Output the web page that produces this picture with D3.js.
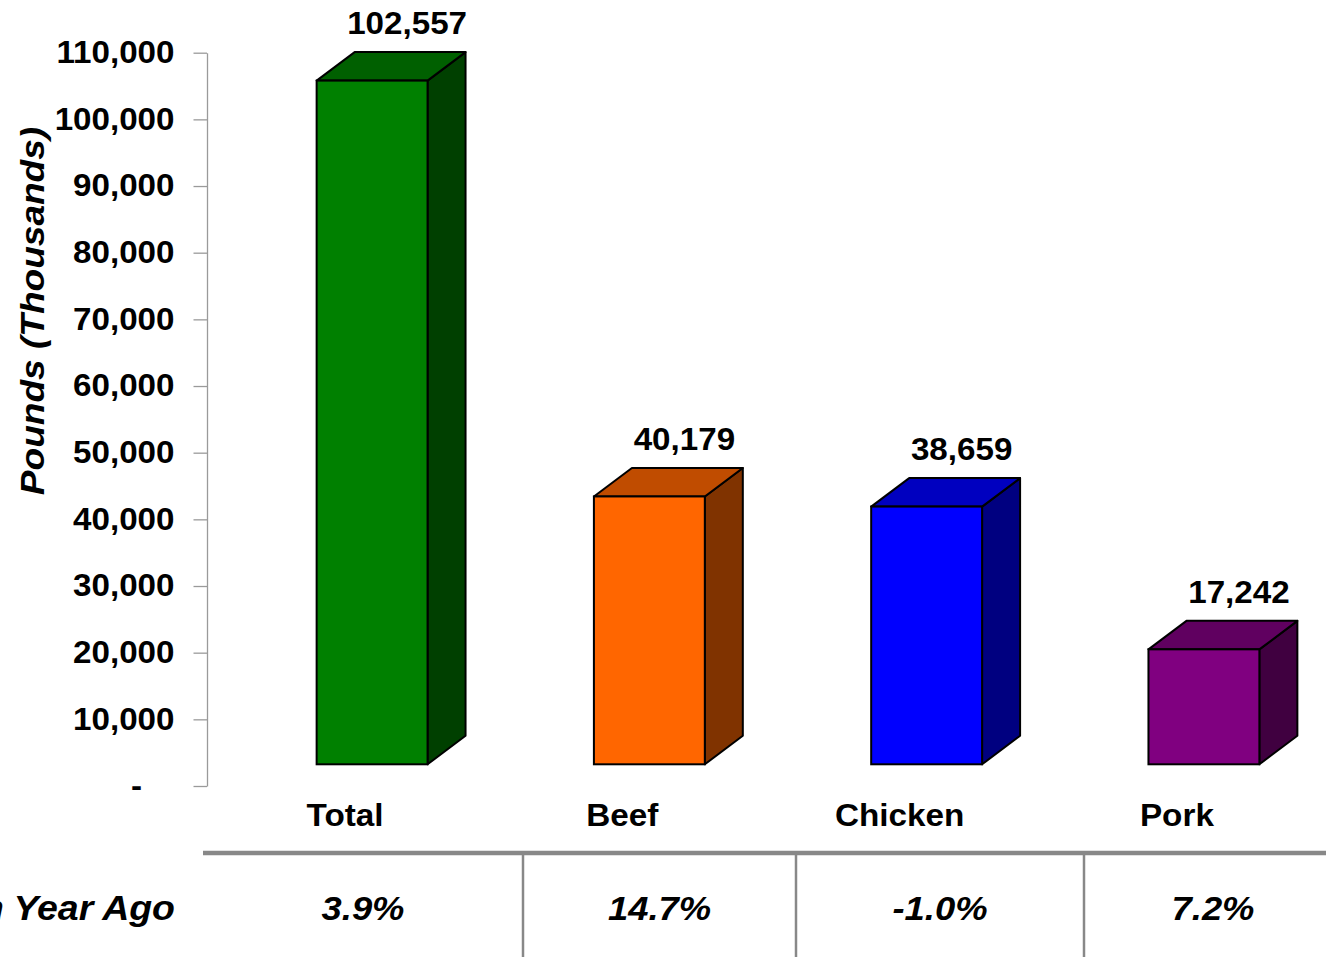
<!DOCTYPE html>
<html>
<head>
<meta charset="utf-8">
<script src="https://cdn.jsdelivr.net/npm/d3@7"></script>
<style>
  html, body { margin: 0; padding: 0; background: #fff; overflow: hidden; }
  svg { display: block; font-family: "Liberation Sans", Arial, sans-serif; }
</style>
</head>
<body>
<svg id="chart" width="1326" height="957"></svg>
<script>
// ---- data ----
const categories = ["Total", "Beef", "Chicken", "Pork"];
const values = [102557, 40179, 38659, 17242];
const changes = ["3.9%", "14.7%", "-1.0%", "7.2%"];
const rowLabel = "% Change from Year Ago";
const yTicks = [0, 10000, 20000, 30000, 40000, 50000, 60000, 70000, 80000, 90000, 100000, 110000];
const yTitle = "Pounds (Thousands)";
const frontColors = ["#008000", "#FF6600", "#0000FF", "#800080"];
const topColors = ["#006000", "#C04C00", "#0000C0", "#600060"];
const sideColors = ["#004000", "#803300", "#000080", "#400040"];
// table column boundaries (layout)
const tableCols = [203, 523, 796, 1084, 1342];

// ---- layout ----
const svg = d3.select("#chart");
const axisX = 207;
const y = d3.scaleLinear().domain([0, 110000]).range([786, 52.7]);
const x = d3.scaleBand().domain(categories).range([178, 1398]).paddingInner(0.6).paddingOuter(0.5);
const floorShift = 21.7;   // front face base sits above the axis zero
const dx = 38, dy = -28.5; // 3D depth
const stretch = 1.07;

// ---- y axis ----
const fmt = d3.format(",");
const axis = d3.axisLeft(y).tickValues(yTicks).tickSize(13.5).tickSizeOuter(0).tickPadding(19)
  .tickFormat(d => d === 0 ? "-" : fmt(d));
const gAxis = svg.append("g").attr("transform", `translate(${axisX},0)`).call(axis);
gAxis.select(".domain").attr("stroke", "#9a9a9a").attr("stroke-width", 1.3);
gAxis.selectAll(".tick line").attr("stroke", "#9a9a9a").attr("stroke-width", 1.3);
gAxis.selectAll(".tick text")
  .attr("fill", "#000").attr("font-size", 31).attr("font-weight", "bold")
  .attr("font-family", "'Liberation Sans', Arial, sans-serif")
  .attr("x", 0)
  .attr("transform", d => `translate(${d === 0 ? -65 : -32.5},0) scale(${stretch},1)`);

// y title
svg.append("text")
  .attr("transform", `translate(44,311) rotate(-90) scale(1.09,1)`)
  .attr("text-anchor", "middle")
  .attr("font-size", 34).attr("font-weight", "bold").attr("font-style", "italic")
  .text(yTitle);

// ---- bars ----
const y0 = y(0) - floorShift;
const bars = svg.append("g").selectAll("g").data(categories).join("g");
bars.each(function(c, i) {
  const g = d3.select(this);
  const x0 = x(c), x1 = x(c) + x.bandwidth();
  const yt = y(values[i]) - floorShift;
  g.append("polygon")
    .attr("points", [[x1, yt], [x1 + dx, yt + dy], [x1 + dx, y0 + dy], [x1, y0]].join(" "))
    .attr("fill", sideColors[i]).attr("stroke", "#000").attr("stroke-width", 2).attr("stroke-linejoin", "round");
  g.append("polygon")
    .attr("points", [[x0, yt], [x0 + dx, yt + dy], [x1 + dx, yt + dy], [x1, yt]].join(" "))
    .attr("fill", topColors[i]).attr("stroke", "#000").attr("stroke-width", 2).attr("stroke-linejoin", "round");
  g.append("rect")
    .attr("x", x0).attr("y", yt).attr("width", x.bandwidth()).attr("height", y0 - yt)
    .attr("fill", frontColors[i]).attr("stroke", "#000").attr("stroke-width", 2);
  g.append("text")
    .attr("transform", `translate(${x0 + x.bandwidth() / 2 + 35},${yt + dy - 18}) scale(${stretch},1)`)
    .attr("text-anchor", "middle").attr("font-size", 31).attr("font-weight", "bold")
    .text(fmt(values[i]));
});

// category labels
svg.append("g").selectAll("text").data(categories).join("text")
  .attr("transform", d => `translate(${x(d) + x.bandwidth() / 2 - 27},826) scale(1.04,1)`)
  .attr("text-anchor", "middle").attr("font-size", 32).attr("font-weight", "bold")
  .text(d => d);

// ---- table ----
svg.append("line")
  .attr("x1", tableCols[0]).attr("x2", 1326).attr("y1", 853).attr("y2", 853)
  .attr("stroke", "#888").attr("stroke-width", 4.5);
svg.append("g").selectAll("line").data(tableCols.slice(1, -1)).join("line")
  .attr("x1", d => d).attr("x2", d => d).attr("y1", 853).attr("y2", 957)
  .attr("stroke", "#888").attr("stroke-width", 2.5);
svg.append("text")
  .attr("transform", `translate(175,920) scale(${stretch},1)`)
  .attr("text-anchor", "end")
  .attr("font-size", 35).attr("font-weight", "bold").attr("font-style", "italic")
  .text(rowLabel);
svg.append("g").selectAll("text").data(changes).join("text")
  .attr("transform", (d, i) => `translate(${(tableCols[i] + tableCols[i + 1]) / 2},920) scale(${stretch},1)`)
  .attr("text-anchor", "middle").attr("font-size", 34).attr("font-weight", "bold").attr("font-style", "italic")
  .text(d => d);
</script>
</body>
</html>
